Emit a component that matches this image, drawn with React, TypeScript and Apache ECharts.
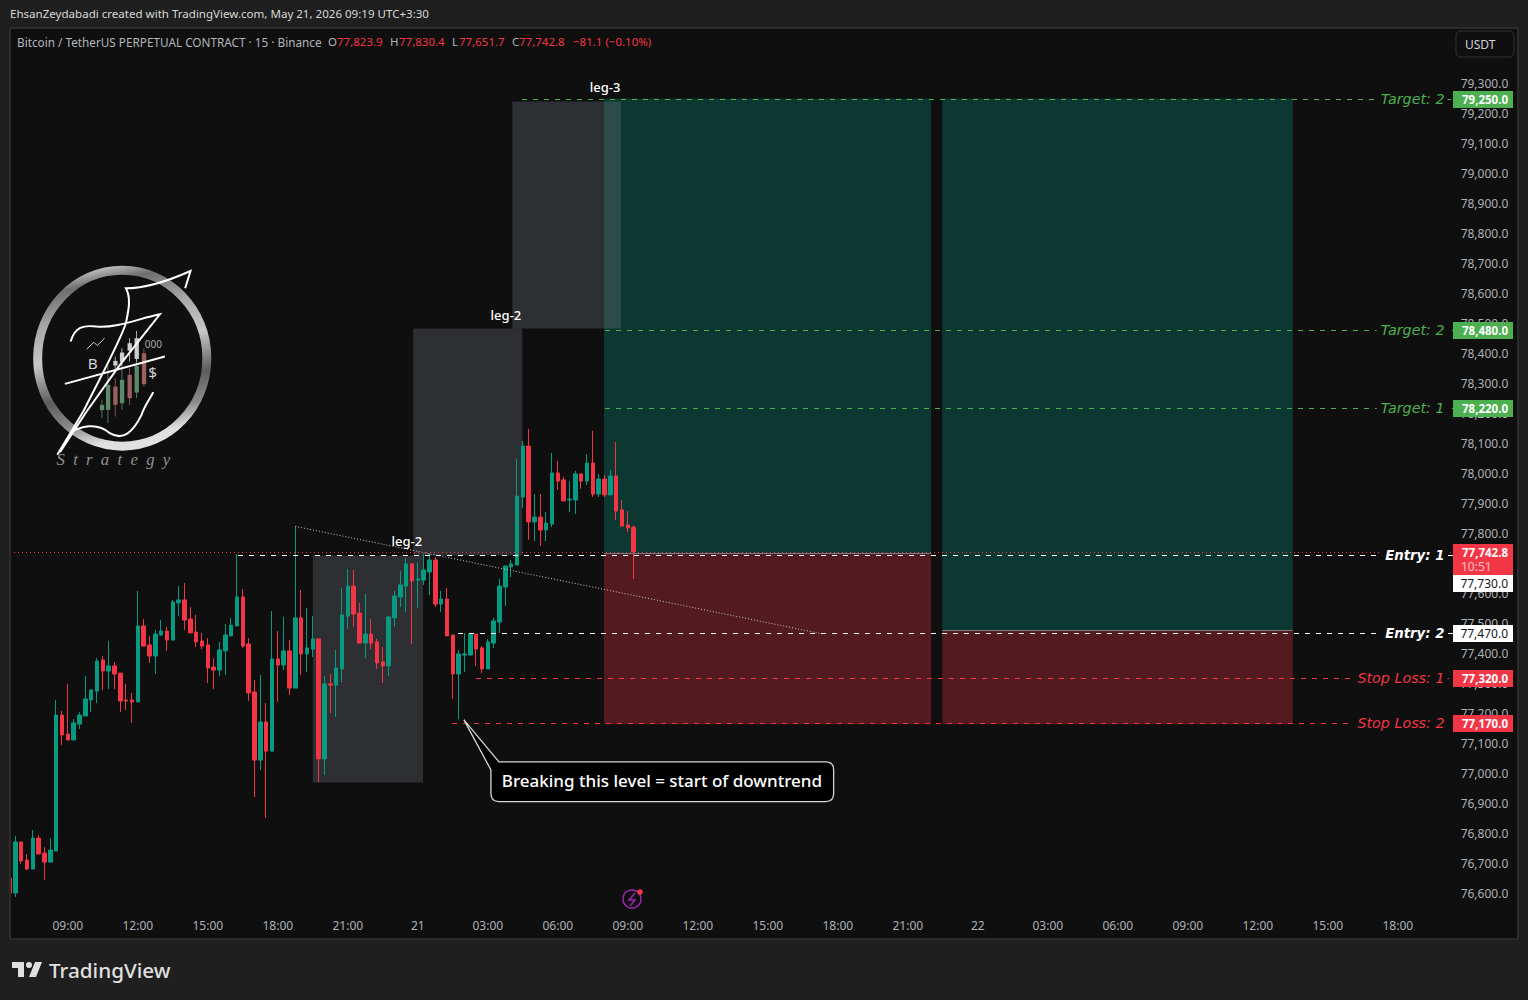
import React, { useEffect, useRef } from 'react'
import * as echarts from 'echarts'

const BAR_COUNT = 248
const UI_FONT = '"Noto Sans", sans-serif'

const opens = [
  76655, 76605, 76775, 76715, 76685, 76788, 76738, 76708, 76745, 77198, 77135, 77115, 77168, 77195, 77248, 77278,
  77382, 77345, 77362, 77338, 77248, 77248, 77242, 77495, 77432, 77395, 77465, 77478, 77448, 77572, 77582, 77518,
  77475, 77445, 77432, 77358, 77348, 77412, 77462, 77495, 77592, 77435, 77275, 77048, 77175, 77078, 77385, 77365,
  77412, 77288, 77522, 77402, 77418, 77452, 77052, 77302, 77298, 77352, 77528, 77628, 77538, 77438, 77468, 77442,
  77375, 77362, 77522, 77592, 77628, 77702, 77648, 77648, 77675, 77715, 77568, 77585, 77465, 77335, 77398, 77398,
  77468, 77422, 77352, 77438, 77508, 77625, 77692, 77698, 77925, 78095, 77842, 77858, 77815, 77835, 78005, 77982,
  77915, 77915, 78002, 77978, 78038, 77935, 77985, 77932, 77995, 77882, 77832, 77823.9
]
const closes = [
  76605, 76775, 76712, 76685, 76788, 76735, 76708, 76748, 77198, 77132, 77115, 77172, 77198, 77252, 77282, 77378,
  77345, 77362, 77335, 77245, 77245, 77242, 77495, 77428, 77395, 77468, 77478, 77448, 77575, 77582, 77515, 77472,
  77442, 77428, 77355, 77348, 77415, 77465, 77498, 77592, 77428, 77272, 77048, 77175, 77078, 77385, 77365, 77412,
  77288, 77522, 77402, 77422, 77452, 77052, 77302, 77298, 77355, 77532, 77628, 77535, 77438, 77468, 77438, 77372,
  77362, 77525, 77595, 77632, 77702, 77645, 77652, 77682, 77715, 77568, 77585, 77462, 77335, 77402, 77402, 77468,
  77418, 77352, 77442, 77512, 77628, 77695, 77702, 77928, 78095, 77842, 77858, 77815, 77838, 78005, 77978, 77912,
  77918, 78002, 77978, 78038, 77935, 77985, 77932, 77995, 77878, 77828, 77822, 77742.8
]
const lows = [
  76605, 76592, 76702, 76682, 76685, 76735, 76648, 76708, 76745, 77098, 77115, 77115, 77152, 77195, 77208, 77238,
  77282, 77285, 77285, 77208, 77215, 77172, 77242, 77428, 77372, 77335, 77462, 77412, 77448, 77528, 77482, 77472,
  77425, 77418, 77305, 77285, 77328, 77332, 77462, 77495, 77422, 77245, 76925, 77015, 76855, 77078, 77242, 77348,
  77265, 77288, 77332, 77342, 77392, 76975, 76998, 77205, 77192, 77308, 77485, 77492, 77438, 77388, 77418, 77352,
  77305, 77328, 77492, 77558, 77542, 77435, 77555, 77632, 77598, 77558, 77542, 77462, 77252, 77185, 77342, 77398,
  77362, 77338, 77352, 77422, 77472, 77562, 77658, 77698, 77888, 77782, 77778, 77762, 77778, 77825, 77948, 77912,
  77875, 77868, 77952, 77965, 77925, 77925, 77925, 77932, 77848, 77828, 77808, 77651.7
]
const highs = [
  76655, 76795, 76775, 76735, 76815, 76798, 76758, 76788, 77248, 77212, 77302, 77185, 77208, 77328, 77282, 77388,
  77395, 77445, 77375, 77338, 77302, 77272, 77612, 77518, 77462, 77482, 77515, 77492, 77582, 77628, 77638, 77558,
  77532, 77472, 77455, 77388, 77442, 77502, 77522, 77735, 77618, 77455, 77315, 77332, 77238, 77545, 77478, 77525,
  77448, 77828, 77615, 77555, 77528, 77452, 77328, 77335, 77415, 77622, 77685, 77682, 77572, 77602, 77518, 77452,
  77425, 77528, 77612, 77678, 77722, 77705, 77708, 77737, 77737, 77725, 77612, 77622, 77465, 77415, 77472, 77470,
  77468, 77428, 77452, 77522, 77652, 77695, 77715, 78052, 78112, 78152, 77935, 77935, 77875, 78072, 78045, 77992,
  77978, 78012, 78002, 78068, 78145, 78002, 77998, 78015, 78108, 77915, 77878, 77830.4
]

const timeLabels = [
  '09:00', '12:00', '15:00', '18:00', '21:00', '21', '03:00', '06:00', '09:00', '12:00',
  '15:00', '18:00', '21:00', '22', '03:00', '06:00', '09:00', '12:00', '15:00', '18:00'
]
const categories = Array.from({ length: BAR_COUNT }, (_, i) =>
  (i - 10) % 12 === 0 && i >= 10 ? timeLabels[(i - 10) / 12] ?? '' : ''
)

const priceTicks = { min: 76500, max: 79500, step: 100, firstShown: 76600, lastShown: 79300 }

// long position drawings, x in bars
const zoneStarts = [101.9, 159.9]
const zoneEnds = [158, 220]
const zoneTargets = [79253, 79253]
const zoneEntries = [77737, 77480]
const zoneStops = [77168, 77168]

const boxStarts = [52, 69.2, 86.2]
const boxEnds = [70.9, 87.9, 104.8]
const boxTops = [77730, 78487, 79243]
const boxBottoms = [76973, 77730, 78487]

const levelNames = ['Target: 2', 'Target: 2', 'Target: 1', 'Entry: 1', 'Entry: 2', 'Stop Loss: 1', 'Stop Loss: 2']
const levelPrices = [79250, 78480, 78220, 77730, 77470, 77320, 77170]
const levelStarts = [87.9, 102, 102, 39.2, 76.9, 80, 75.9]
const levelKinds = ['target', 'target', 'target', 'entry', 'entry', 'stop', 'stop']

const legNames = ['leg-2', 'leg-2', 'leg-3']
const legBars = [68.1, 85.1, 102.1]
const legPrices = [77778, 78532, 79292]

const trendLine = [[49, 77827], [139, 77470]]
const lastPrice = 77742.8
const countdown = '10:51'
const calloutBar = 77.9
const calloutPrice = 77182
const calloutText = 'Breaking this level = start of downtrend'

const legendParts = [
  { text: 'O', x: 328, red: false }, { text: '77,823.9', x: 337, red: true },
  { text: 'H', x: 390, red: false }, { text: '77,830.4', x: 399, red: true },
  { text: 'L', x: 452, red: false }, { text: '77,651.7', x: 459, red: true },
  { text: 'C', x: 512, red: false }, { text: '77,742.8', x: 519, red: true },
  { text: '\u221281.1 (\u22120.10%)', x: 573, red: true }
]

const GREEN = '#089981'
const RED = '#f23645'
const LEVEL_COLORS: { [key: string]: string } = { target: '#4caf50', entry: '#ffffff', stop: RED }
const TAG_COLORS: { [key: string]: string } = { target: '#4caf50', entry: '#ffffff', stop: RED }

const fmtPrice = (v: number) => v.toLocaleString('en-US', { minimumFractionDigits: 1, maximumFractionDigits: 1 })
const crisp = (v: number) => Math.floor(v + 0.01) + 0.5

echarts.graphic.registerShape('tvMark', echarts.graphic.extendPath(
  'M14 6H2v6h6v9h6V6Zm12 15h-7l6-15h7l-6 15Zm-7-9a3 3 0 1 0 0-6 3 3 0 0 0 0 6Z', {}
))
echarts.graphic.registerShape('calloutBox', echarts.graphic.extendPath(
  'M0 0L35 42L361.7 42Q369.7 42 369.7 50L369.7 73.7Q369.7 81.7 361.7 81.7L35 81.7Q27 81.7 27 73.7L27 50Z', {}
))
echarts.graphic.registerShape('logoScript', echarts.graphic.extendPath(
  'M496 100L512 48C440 80 380 100 318 100C335 130 325 170 318 205C300 260 250 350 190 470L112 600' +
  'M152 260C165 215 190 210 230 215C290 220 360 190 420 178L300 330L200 470L120 592' +
  'M135 387L435 305' +
  'M150 535C180 515 230 500 270 535C310 560 340 530 365 480C375 450 395 425 400 412', {}
))

const logoCandles = [
  { x: 240, y: 450, h: 16, top: 435, bot: 490, c: '#5f8a6a' },
  { x: 258, y: 390, h: 75, top: 330, bot: 505, c: '#5f8a6a' },
  { x: 280, y: 395, h: 55, top: 370, bot: 485, c: '#9a5f5f' },
  { x: 300, y: 375, h: 70, top: 340, bot: 465, c: '#5f8a6a' },
  { x: 323, y: 360, h: 70, top: 340, bot: 450, c: '#9a5f5f' },
  { x: 344, y: 333, h: 80, top: 305, bot: 430, c: '#5f8a6a' },
  { x: 366, y: 295, h: 93, top: 280, bot: 395, c: '#9a5f5f' },
  { x: 280, y: 318, h: 14, top: 305, bot: 345, c: '#cfcfcf' },
  { x: 300, y: 293, h: 28, top: 280, bot: 335, c: '#cfcfcf' },
  { x: 323, y: 265, h: 22, top: 250, bot: 320, c: '#cfcfcf' },
  { x: 344, y: 250, h: 62, top: 228, bot: 320, c: '#cfcfcf' }
]

const buildLogo = () => ({
  type: 'group',
  x: 20,
  y: 255,
  scaleX: 1 / 3,
  scaleY: 1 / 3,
  children: [
    {
      type: 'ellipse',
      shape: { cx: 307, cy: 310, rx: 254, ry: 264 },
      style: {
        fill: 'none',
        lineWidth: 27,
        stroke: new echarts.graphic.LinearGradient(0.1, 0, 0.3, 1, [
          { offset: 0, color: '#e6e6e6' },
          { offset: 0.12, color: '#6f6f6f' },
          { offset: 0.3, color: '#a8a8a8' },
          { offset: 0.5, color: '#c8c8c8' },
          { offset: 0.72, color: '#5c5c5c' },
          { offset: 0.88, color: '#8c8c8c' },
          { offset: 1, color: '#e0e0e0' }
        ])
      }
    },
    ...logoCandles.flatMap((d) => [
      { type: 'line', shape: { x1: d.x + 6, y1: d.top, x2: d.x + 6, y2: d.bot }, style: { stroke: d.c, lineWidth: 2.5 } },
      { type: 'rect', shape: { x: d.x, y: d.y, width: 13, height: d.h }, style: { fill: d.c } }
    ]),
    {
      type: 'polyline',
      shape: { points: [[200, 283], [222, 262], [232, 272], [254, 250]] },
      style: { stroke: '#cfcfcf', lineWidth: 3, fill: 'none' }
    },
    { type: 'text', x: 218, y: 325, style: { text: 'B', fill: '#d5d5d5', fontSize: 46, fontFamily: UI_FONT, align: 'center', verticalAlign: 'middle' } },
    { type: 'text', x: 398, y: 352, style: { text: '$', fill: '#d5d5d5', fontSize: 46, fontFamily: UI_FONT, align: 'center', verticalAlign: 'middle' } },
    { type: 'text', x: 400, y: 268, style: { text: '000', fill: '#a8a8a8', fontSize: 30, fontFamily: UI_FONT, align: 'center', verticalAlign: 'middle' } },
    { type: 'logoScript', style: { stroke: '#ffffff', lineWidth: 6, fill: 'none' } },
    {
      type: 'text',
      x: 280,
      y: 614,
      style: {
        text: 'S  t  r  a  t  e  g  y',
        fill: '#8f8f8f',
        fontSize: 50,
        fontStyle: 'italic',
        fontFamily: '"Liberation Serif", serif',
        align: 'center',
        verticalAlign: 'middle'
      }
    }
  ]
})

const uiText = (text: string, x: number, y: number, fill: string, fontSize = 12, extra = {}) => ({
  type: 'text',
  x,
  y,
  z: 101,
  style: { text, fill, fontSize, fontFamily: UI_FONT, verticalAlign: 'middle', ...extra }
})

const App: React.FC = () => {
  const chartRef = useRef<HTMLDivElement>(null)

  useEffect(() => {
    if (!chartRef.current) return
    document.body.style.margin = '0'
    document.body.style.background = '#1f1f1f'
    const chart = echarts.init(chartRef.current, undefined, { renderer: 'svg' })

    const option: any = {
      animation: false,
      backgroundColor: '#1f1f1f',
      textStyle: { fontFamily: UI_FONT },
      grid: { left: 6.6, top: 24.5, width: (BAR_COUNT * 70) / 12, height: 900 },
      xAxis: [
        {
          type: 'category',
          data: categories,
          boundaryGap: true,
          axisLine: { show: false },
          axisTick: { show: false },
          splitLine: { show: false },
          axisLabel: {
            margin: -5,
            interval: (_: number, value: string) => value !== '',
            color: '#aeb1b8',
            fontSize: 12,
            fontFamily: UI_FONT
          }
        },
        { type: 'value', show: false, min: -0.5, max: BAR_COUNT - 0.5 }
      ],
      yAxis: {
        type: 'value',
        position: 'right',
        min: priceTicks.min,
        max: priceTicks.max,
        interval: priceTicks.step,
        axisLine: { show: false },
        axisTick: { show: false },
        splitLine: { show: false },
        axisLabel: {
          margin: 55,
          align: 'right',
          verticalAlign: 'bottom',
          lineHeight: 3,
          color: '#aeb1b8',
          fontSize: 12,
          fontFamily: UI_FONT,
          formatter: (v: number) => (v < priceTicks.firstShown || v > priceTicks.lastShown ? '' : fmtPrice(v))
        }
      },
      series: [
        {
          type: 'custom',
          z: 1,
          xAxisIndex: 1,
          data: zoneStarts.map((_, i) => [zoneStarts[i], zoneEntries[i]]),
          renderItem: (params: any, api: any) => {
            const i = params.dataIndex
            const tl = api.coord([zoneStarts[i], zoneTargets[i]])
            const mid = api.coord([zoneEnds[i], zoneEntries[i]])
            const br = api.coord([zoneEnds[i], zoneStops[i]])
            return {
              type: 'group',
              children: [
                {
                  type: 'rect',
                  shape: { x: tl[0], y: tl[1], width: mid[0] - tl[0], height: mid[1] - tl[1] },
                  style: { fill: 'rgba(8,153,129,0.3)' }
                },
                {
                  type: 'rect',
                  shape: { x: tl[0], y: mid[1], width: mid[0] - tl[0], height: br[1] - mid[1] },
                  style: { fill: 'rgba(242,54,69,0.3)' }
                },
                {
                  type: 'line',
                  shape: { x1: tl[0], y1: crisp(mid[1]), x2: mid[0], y2: crisp(mid[1]) },
                  style: { stroke: '#787b86', lineWidth: 1 }
                }
              ]
            }
          }
        },
        {
          type: 'custom',
          z: 2,
          xAxisIndex: 1,
          data: boxStarts.map((_, i) => [boxStarts[i], boxTops[i]]),
          renderItem: (params: any, api: any) => {
            const i = params.dataIndex
            const tl = api.coord([boxStarts[i], boxTops[i]])
            const br = api.coord([boxEnds[i], boxBottoms[i]])
            return {
              type: 'rect',
              shape: { x: tl[0], y: tl[1], width: br[0] - tl[0], height: br[1] - tl[1] },
              style: { fill: 'rgba(120,123,134,0.3)' }
            }
          }
        },
        {
          type: 'candlestick',
          z: 3,
          barWidth: 4,
          itemStyle: { color: GREEN, color0: RED, borderColor: GREEN, borderColor0: RED, borderWidth: 1 },
          data: opens.map((o, i) => [o, closes[i], lows[i], highs[i]])
        },
        // dashed levels
        {
          type: 'custom',
          z: 4,
          xAxisIndex: 1,
          data: levelPrices.map((p, i) => [levelStarts[i], p]),
          renderItem: (params: any, api: any) => {
            const i = params.dataIndex
            const a = api.coord([levelStarts[i], levelPrices[i]])
            const b = api.coord([BAR_COUNT - 0.5, levelPrices[i]])
            const y = crisp(a[1])
            return {
              type: 'line',
              shape: { x1: Math.round(a[0]), y1: y, x2: b[0], y2: y },
              style: { stroke: LEVEL_COLORS[levelKinds[i]], lineWidth: 1, lineDash: [5, 6] }
            }
          }
        },
        {
          type: 'custom',
          z: 4,
          xAxisIndex: 1,
          data: [[trendLine[0][0], trendLine[0][1]]],
          renderItem: (_: any, api: any) => {
            const a = api.coord(trendLine[0])
            const b = api.coord(trendLine[1])
            const c = api.coord([0, lastPrice])
            const d = api.coord([BAR_COUNT - 0.5, lastPrice])
            const y = Math.round(c[1]) + 0.5
            return {
              type: 'group',
              children: [
                {
                  type: 'line',
                  shape: { x1: a[0], y1: a[1], x2: b[0], y2: b[1] },
                  style: { stroke: '#c8c8c8', lineWidth: 1, lineDash: [1, 2] }
                },
                {
                  type: 'line',
                  shape: { x1: Math.round(c[0]), y1: y, x2: d[0], y2: y },
                  style: { stroke: RED, lineWidth: 1, lineDash: [1, 3] }
                }
              ]
            }
          }
        },
        // level names and price tags
        {
          type: 'custom',
          z: 5,
          xAxisIndex: 1,
          data: levelPrices.map((p, i) => [levelStarts[i], p]),
          renderItem: (params: any, api: any) => {
            const i = params.dataIndex
            const y = crisp(api.coord([0, levelPrices[i]])[1])
            const kind = levelKinds[i]
            // the 77,730 tag is pushed down below the last price tag
            const tagY = levelPrices[i] === 77730 ? y + 28 : y
            return {
              type: 'group',
              children: [
                {
                  type: 'text',
                  x: 1447.5,
                  y: y - 0.5,
                  style: {
                    text: levelNames[i],
                    fill: LEVEL_COLORS[kind],
                    fontSize: kind === 'entry' ? 13.3 : 14.3,
                    fontWeight: kind === 'entry' ? 'bold' : 'normal',
                    fontStyle: 'italic',
                    fontFamily: '"DejaVu Sans", sans-serif',
                    align: 'right',
                    verticalAlign: 'middle',
                    backgroundColor: '#0f0f0f',
                    padding: [1, 3, 1, 4]
                  }
                },
                {
                  type: 'rect',
                  shape: { x: 1453, y: tagY - 8.5, width: 60, height: 17 },
                  style: { fill: TAG_COLORS[kind] }
                },
                {
                  type: 'text',
                  x: 1508,
                  y: tagY - 0.5,
                  style: {
                    text: fmtPrice(levelPrices[i]),
                    fill: kind === 'entry' ? '#131722' : '#ffffff',
                    fontSize: kind === 'entry' ? 12 : 11.5,
                    fontWeight: kind === 'entry' ? 'normal' : 'bold',
                    fontFamily: UI_FONT,
                    align: 'right',
                    verticalAlign: 'middle'
                  }
                }
              ]
            }
          }
        },
        {
          type: 'custom',
          z: 5,
          xAxisIndex: 1,
          data: [[0, lastPrice]],
          renderItem: (_: any, api: any) => {
            const y = Math.round(api.coord([0, lastPrice])[1])
            return {
              type: 'group',
              children: [
                { type: 'rect', shape: { x: 1453, y: y - 8, width: 60, height: 31 }, style: { fill: RED } },
                {
                  type: 'text', x: 1508, y: y,
                  style: { text: fmtPrice(lastPrice), fill: '#ffffff', fontSize: 11.5, fontWeight: 'bold', fontFamily: UI_FONT, align: 'right', verticalAlign: 'middle' }
                },
                {
                  type: 'text', x: 1461, y: y + 14,
                  style: { text: countdown, fill: '#fbc5ca', fontSize: 12, fontFamily: UI_FONT, align: 'left', verticalAlign: 'middle' }
                }
              ]
            }
          }
        },
        {
          type: 'custom',
          z: 5,
          xAxisIndex: 1,
          data: legBars.map((b, i) => [b, legPrices[i]]),
          renderItem: (params: any, api: any) => {
            const i = params.dataIndex
            const p = api.coord([legBars[i], legPrices[i]])
            return {
              type: 'text',
              x: p[0],
              y: p[1],
              style: {
                text: legNames[i],
                fill: '#ffffff',
                fontSize: 13,
                fontWeight: 500,
                fontFamily: UI_FONT,
                align: 'center',
                verticalAlign: 'middle'
              }
            }
          }
        },
        {
          type: 'custom',
          z: 6,
          xAxisIndex: 1,
          data: [[calloutBar, calloutPrice]],
          renderItem: (_: any, api: any) => {
            const tip = api.coord([calloutBar, calloutPrice])
            return {
              type: 'group',
              children: [
                {
                  type: 'calloutBox',
                  x: tip[0],
                  y: tip[1],
                  style: { fill: '#000000', stroke: '#d6d6d6', lineWidth: 1.3 }
                },
                {
                  type: 'text',
                  x: tip[0] + 198,
                  y: tip[1] + 60.5,
                  style: {
                    text: calloutText,
                    fill: '#ffffff',
                    fontSize: 17,
                    fontWeight: 500,
                    fontFamily: UI_FONT,
                    align: 'center',
                    verticalAlign: 'middle'
                  }
                }
              ]
            }
          }
        }
      ],
      graphic: [
        { type: 'rect', z: -10, shape: { x: 10, y: 28, width: 1508, height: 911 }, style: { fill: '#0f0f0f' } },
        { type: 'rect', z: 99, shape: { x: 0, y: 27, width: 9, height: 915 }, style: { fill: '#1f1f1f' } },
        { type: 'rect', z: 100, shape: { x: 10, y: 28, width: 1508, height: 911 }, style: { fill: 'none', stroke: '#2b2b2b', lineWidth: 2 } },
        uiText('EhsanZeydabadi created with TradingView.com, May 21, 2026 09:19 UTC+3:30', 10, 13.5, '#d8d8d8', 11.56),
        uiText('Bitcoin / TetherUS PERPETUAL CONTRACT \u00b7 15 \u00b7 Binance', 17, 41.5, '#b2b5be', 11.75),
        ...legendParts.map((d) => uiText(d.text, d.x, 41.5, d.red ? RED : '#b2b5be', 11.5)),
        { type: 'rect', z: 101, shape: { x: 1456, y: 31, width: 58, height: 26, r: 5 }, style: { fill: '#0f0f0f', stroke: '#333333', lineWidth: 1 } },
        uiText('USDT', 1465, 44, '#d1d4dc', 12),
        { ...buildLogo(), z: 1 },
        { type: 'circle', z: 101, shape: { cx: 632, cy: 899, r: 9 }, style: { fill: 'none', stroke: '#9c27b0', lineWidth: 1.5 } },
        { type: 'polyline', z: 101, shape: { points: [[635, 893], [629, 900], [635, 900], [630, 906]] }, style: { fill: 'none', stroke: '#9c27b0', lineWidth: 1.5 } },
        { type: 'circle', z: 102, shape: { cx: 640, cy: 892, r: 2.8 }, style: { fill: RED } },
        { type: 'tvMark', z: 101, x: 10, y: 956, scaleX: 1, scaleY: 1, style: { fill: '#e0e0e0' } },
        uiText('TradingView', 49, 970, '#e0e0e0', 20.7, { fontWeight: 500 })
      ]
    }

    chart.setOption(option)
    return () => {
      chart.dispose()
    }
  }, [])

  return <div ref={chartRef} style={{ position: 'fixed', left: 0, top: 0, width: 1528, height: 1000 }} />
}

export default App
